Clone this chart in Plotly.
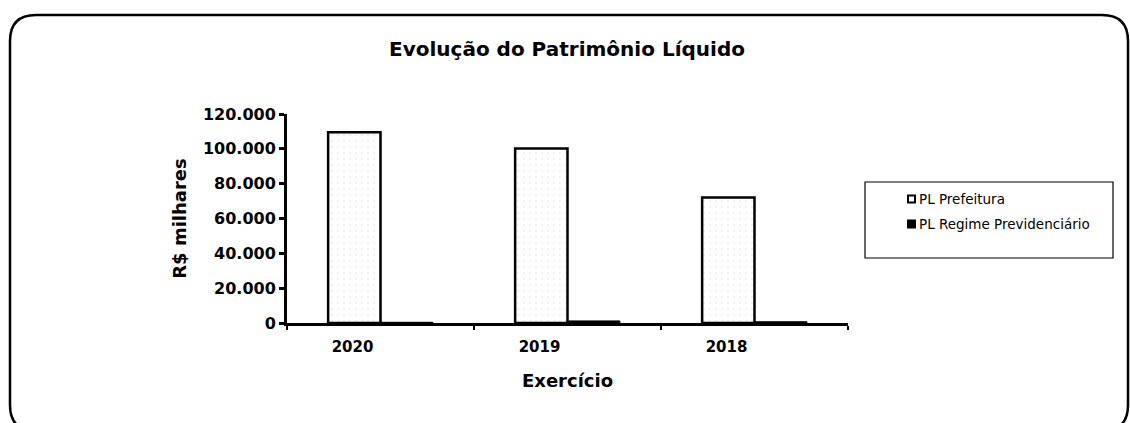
import plotly.graph_objects as go

categories = ["2020", "2019", "2018"]
pl_prefeitura = [109500, 100200, 72000]
pl_regime = [400, 1200, 700]
y_ticks = [0, 20000, 40000, 60000, 80000, 100000, 120000]
y_tick_labels = ["0", "20.000", "40.000", "60.000", "80.000", "100.000", "120.000"]
legend_names = ["PL Prefeitura", "PL Regime Previdenciário"]

OFF = 0
W, H = 1130, 423
L, T = 287, 114
R = W - 848
B = H - 323
PW, PH = W - L - R, H - T - B


def px(x):
    return (x - OFF - L) / PW


def py(y):
    return (H - B - (y - OFF)) / PH


FONT = "DejaVu Sans, sans-serif"

fig = go.Figure()
fig.add_trace(go.Bar(
    x=categories, y=pl_prefeitura, name=legend_names[0],
    marker=dict(color="#fdfdfd", line=dict(color="black", width=2.5),
                pattern=dict(shape=".", fgcolor="#d8d8d8", bgcolor="#ffffff", size=6, solidity=0.08)),
))
fig.add_trace(go.Bar(
    x=categories, y=pl_regime, name=legend_names[1],
    marker=dict(color="black", line=dict(color="black", width=1)),
))

fig.update_layout(
    width=W, height=H,
    margin=dict(l=L, r=R, t=T, b=B, autoexpand=False),
    paper_bgcolor="white", plot_bgcolor="white",
    barmode="group", bargap=0.44, bargroupgap=0,
    font=dict(family=FONT, color="black"),
    title=dict(text="<b>Evolução do Patrimônio Líquido</b>", x=px(567), xref="paper", xanchor="center",
               y=1 - (49 - OFF) / H, yanchor="middle", font=dict(size=20, family=FONT)),
    showlegend=False,
)

fig.update_yaxes(
    range=[0, 120000], tickvals=y_ticks, ticktext=["<b>%s</b>" % t for t in y_tick_labels],
    showgrid=False, zeroline=False, showline=True, linecolor="black", linewidth=3,
    ticks="outside", ticklen=5, tickwidth=3, tickcolor="black",
    tickfont=dict(size=16, family=FONT),
    title=dict(text="<b>R$ milhares</b>", font=dict(size=18, family=FONT), standoff=12),
)
fig.update_xaxes(
    showgrid=False, showline=True, linecolor="black", linewidth=3,
    ticks="outside", ticklen=4, tickwidth=2, tickcolor="black", tickson="boundaries",
    tickfont=dict(size=15, family=FONT),
    ticktext=["<b>%s</b>" % c for c in categories], tickvals=categories,
    ticklabelshift=-28, ticklabelstandoff=8,
    title=dict(text="<b>Exercício</b>", font=dict(size=18, family=FONT), standoff=20),
)

# Outer rounded frame
x0, y0, x1, y1, r = px(10), py(15), px(1128), py(431), 26
rx, ry = r / PW, r / PH
path = (f"M {x0+rx},{y0} L {x1-rx},{y0} Q {x1},{y0} {x1},{y0-ry} "
        f"L {x1},{y1+ry} Q {x1},{y1} {x1-rx},{y1} L {x0+rx},{y1} Q {x0},{y1} {x0},{y1+ry} "
        f"L {x0},{y0-ry} Q {x0},{y0} {x0+rx},{y0} Z")
fig.add_shape(type="path", path=path, xref="paper", yref="paper",
              line=dict(color="black", width=2.5), layer="below")

# Legend box (manual legend)
fig.add_shape(type="rect", xref="paper", yref="paper",
              x0=px(865), x1=px(1113), y0=py(182), y1=py(258),
              line=dict(color="black", width=1.2))
legend_rows = [199, 224]
legend_fill = ["white", "black"]
for name, yc, fill in zip(legend_names, legend_rows, legend_fill):
    fig.add_shape(type="rect", xref="paper", yref="paper",
                  x0=px(908), x1=px(915), y0=py(yc - 3.5), y1=py(yc + 3.5),
                  fillcolor=fill, line=dict(color="black", width=2))
    fig.add_annotation(text=name, xref="paper", yref="paper", x=px(917), y=py(yc),
                       xanchor="left", yanchor="middle", showarrow=False,
                       font=dict(size=13.5, family=FONT, color="black"))

fig.write_html("out.html", config={"displayModeBar": False},
               post_script="document.body.style.margin='0';document.body.style.overflow='hidden';")
